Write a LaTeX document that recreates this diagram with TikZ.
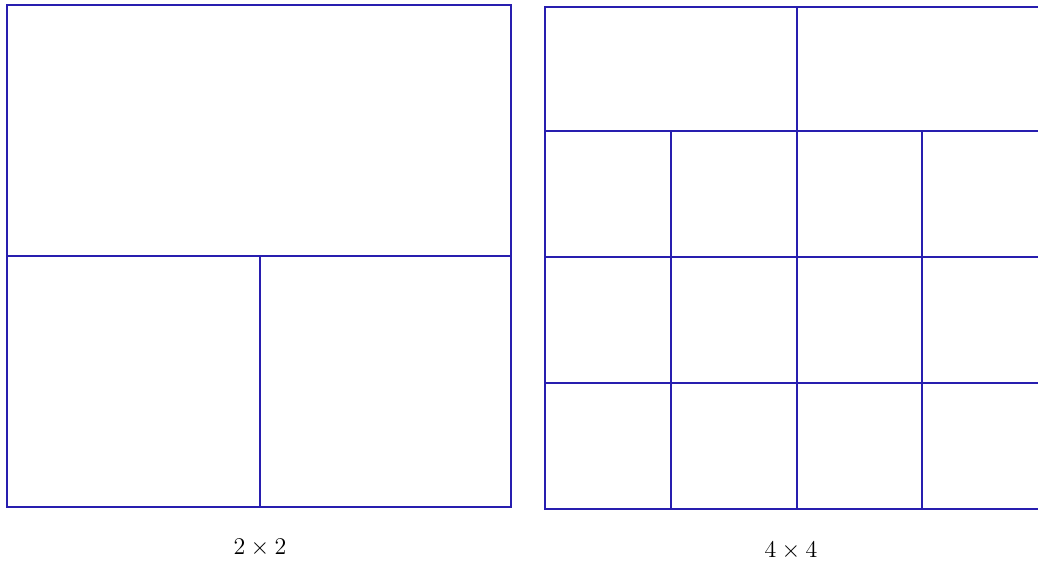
\documentclass[tikz,border=0pt]{standalone}
\usepackage{tikz}
\usepackage{xcolor}
\usetikzlibrary{positioning}
\definecolor{gridblue}{RGB}{40,30,175}

\tikzset{
    cell/.style={draw=gridblue, line width=0.6pt},
    caption/.style={font=\large, inner sep=0pt}
}

\begin{document}
\begin{tikzpicture}[x=0.5pt, y=-0.5pt]
    % page frame (cuts the right panel at its edge)
    \useasboundingbox (0,0) rectangle (1038,563);
    \clip (0,0) rectangle (1038,563);

    % Left panel: 2 x 2
    \draw[cell] (7,5) rectangle (511,507);
    \draw[cell] (7,256) -- (511,256);
    \draw[cell] (260,256) -- (260,507);
    \node[caption] (leftlabel) at (260,548) {$2\times 2$};

    % Right panel: 4 x 4
    \draw[cell] (545,7) rectangle (1049,509);
    \foreach \y in {131,257,383} {
        \draw[cell] (545,\y) -- (1049,\y);
    }
    % top row split in two
    \draw[cell] (797,7) -- (797,131);
    % lower rows split in four
    \foreach \x in {671,797,922} {
        \draw[cell] (\x,131) -- (\x,509);
    }
    \node[caption] (rightlabel) at (791,551) {$4\times 4$};

\end{tikzpicture}
\end{document}
